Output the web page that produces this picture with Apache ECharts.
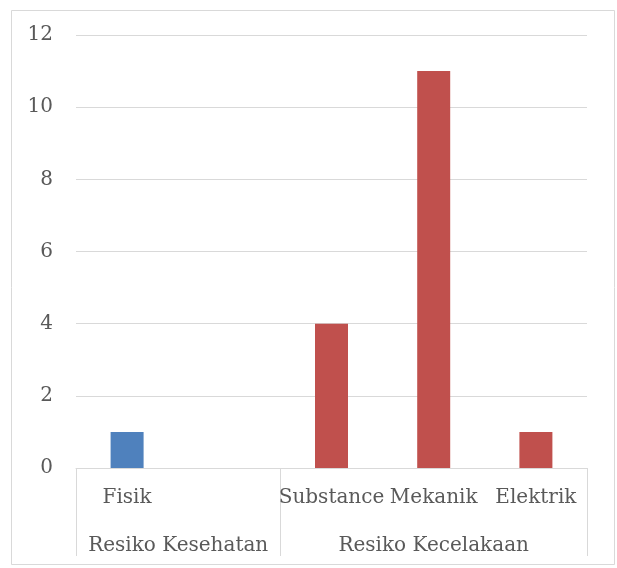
<!DOCTYPE html>
<html>
<head>
<meta charset="utf-8">
<script src="https://cdn.jsdelivr.net/npm/echarts@6/dist/echarts.min.js"></script>
<style>
  html, body { margin: 0; padding: 0; background: #fff; }
  #chart { width: 617px; height: 568px; }
</style>
</head>
<body>
<div id="chart"></div>
<script>
var categories = ['Fisik', '', 'Substance', 'Mekanik', 'Elektrik'];
var groups = ['Resiko Kesehatan', 'Resiko Kecelakaan'];
var groupSizes = [2, 3];
var kesehatan = [1, '-', '-', '-', '-'];
var kecelakaan = ['-', '-', 4, 11, 1];
var yTicks = [0, 2, 4, 6, 8, 10, 12];

// group boundaries and centres on a 0..n scale
var bounds = [0], centres = [];
groupSizes.forEach(function (n, i) {
    var start = bounds[i];
    bounds.push(start + n);
    centres.push(start + n / 2);
});

var font = 'DejaVu Serif';
var txt = '#595959';
var gridCol = '#d9d9d9';

var myChart = echarts.init(document.getElementById('chart'));

var option = {
    backgroundColor: '#fff',
    animation: false,
    graphic: [{
        type: 'rect',
        shape: { x: 11.5, y: 10.5, width: 603, height: 554 },
        style: { fill: 'none', stroke: gridCol, lineWidth: 1 },
        silent: true
    }],
    grid: { left: 76, right: 30, top: 35, bottom: 100 },
    xAxis: [{
        type: 'category',
        data: categories,
        axisLine: { lineStyle: { color: gridCol } },
        axisTick: { show: false },
        axisLabel: { color: txt, fontFamily: font, fontSize: 20, margin: 20, interval: 0 }
    }, {
        type: 'value',
        position: 'bottom',
        min: 0,
        max: bounds[bounds.length - 1],
        axisLine: { show: false },
        splitLine: { show: false },
        axisTick: {
            show: true,
            customValues: bounds,
            length: 88,
            lineStyle: { color: gridCol }
        },
        axisLabel: {
            customValues: centres,
            color: txt, fontFamily: font, fontSize: 20, margin: 68,
            formatter: function (v) {
                var i = centres.indexOf(v);
                return i >= 0 ? groups[i] : '';
            }
        }
    }],
    yAxis: {
        type: 'value',
        min: yTicks[0],
        max: yTicks[yTicks.length - 1],
        interval: 2,
        axisLine: { show: false },
        axisTick: { show: false },
        splitLine: { lineStyle: { color: gridCol } },
        axisLabel: { color: txt, fontFamily: font, fontSize: 20, margin: 23 }
    },
    series: [{
        name: groups[0],
        type: 'bar',
        data: kesehatan,
        barWidth: 33,
        barGap: '-100%',
        itemStyle: { color: '#4f81bd' }
    }, {
        name: groups[1],
        type: 'bar',
        data: kecelakaan,
        barWidth: 33,
        barGap: '-100%',
        itemStyle: { color: '#c0504d' }
    }]
};
myChart.setOption(option);
</script>
</body>
</html>
